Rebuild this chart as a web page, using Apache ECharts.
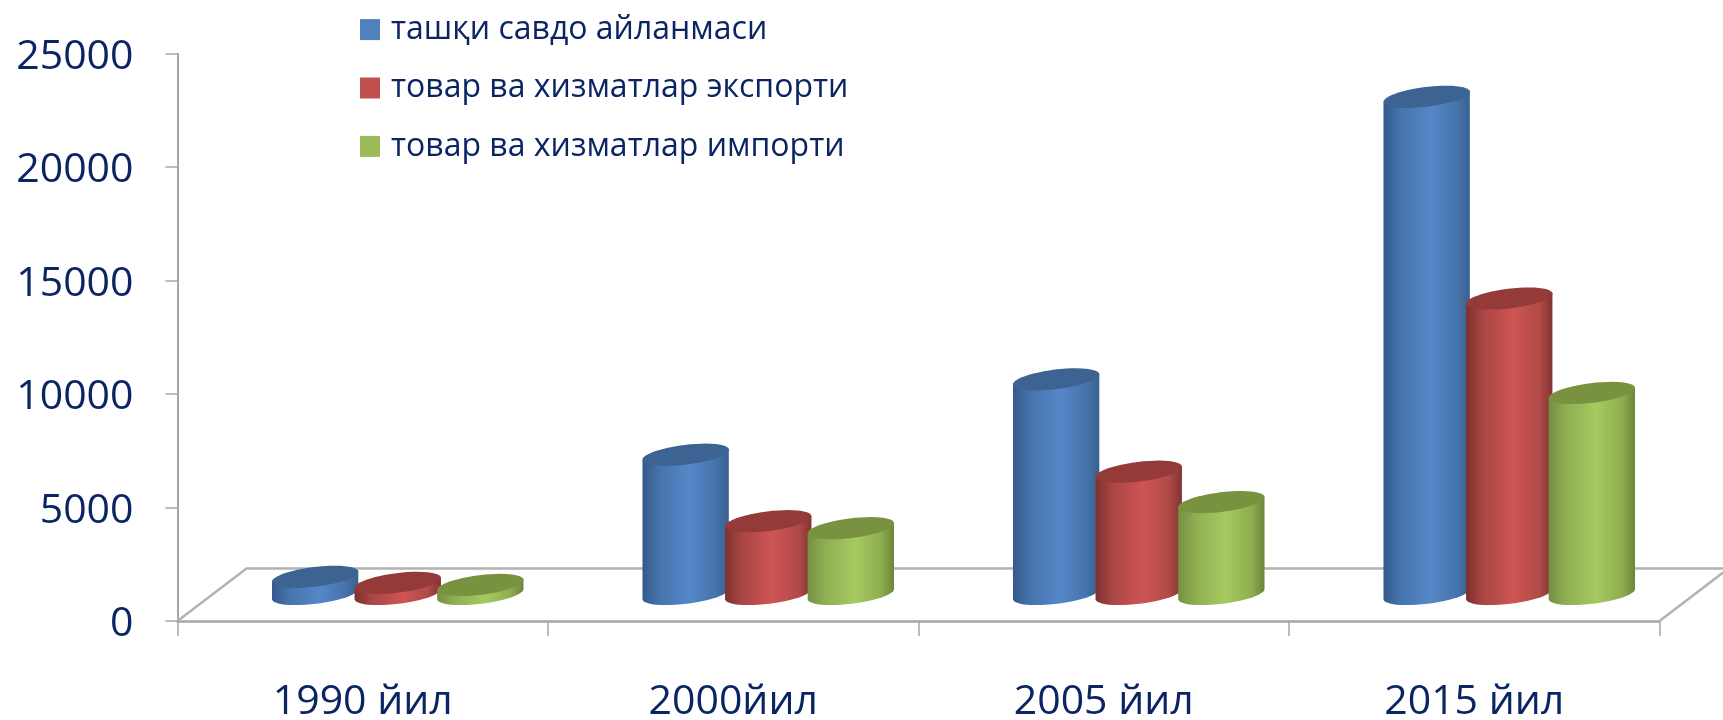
<!DOCTYPE html>
<html><head><meta charset="utf-8">
<style>html,body{margin:0;padding:0;background:#fff}#c{width:1723px;height:720px}</style>
<script src="https://cdn.jsdelivr.net/npm/echarts@6/dist/echarts.min.js"></script>
</head><body><div id="c"></div>
<script>
const categories = ['1990 йил', '2000йил', '2005 йил', '2015 йил'];
const turnover = [760, 6140, 9460, 21910];
const exports_ = [490, 3210, 5390, 13020];
const imports_ = [400, 2900, 4050, 8860];
const seriesNames = ['ташқи савдо айланмаси', 'товар ва хизматлар экспорти', 'товар ва хизматлар импорти'];

const DEPTH_X = 35, DEPTH_Y = 27, RX = 43.5, RY = 9.8, TILT = 7 * Math.PI / 180, STEP = 82.6;
const FONT = '"Open Sans"';
const INK = '#0b2463';
const shades = [
  {top:'#3c6391', stops:['#34598a','#4674ad','#5587c8','#4673aa','#38618f'], legend:'#4f81bd'},
  {top:'#943b39', stops:['#7d302f','#aa4644','#cd5553','#b04a48','#823331'], legend:'#c0504d'},
  {top:'#78923f', stops:['#758f42','#8fae52','#a6ca60','#8fad50','#6c853a'], legend:'#9bbb59'}
];
function pt(cx, cy, t) {
  const c = Math.cos(TILT), s = Math.sin(TILT);
  return [cx + RX*Math.cos(t)*c + RY*Math.sin(t)*s, cy - RX*Math.cos(t)*s + RY*Math.sin(t)*c];
}
function cylinder(si) {
  return function (params, api) {
    const p = api.coord([api.value(0), api.value(1)]);
    const z = api.coord([api.value(0), 0]);
    const cx = z[0] + DEPTH_X + (si - 1) * STEP;
    const baseY = z[1] - DEPTH_Y;
    const topY = baseY - (z[1] - p[1]);
    const side = [], lid = [];
    for (let k = 0; k <= 24; k++) side.push(pt(cx, baseY, Math.PI - k/24*Math.PI));
    side.push(pt(cx, topY, 0));
    for (let k = 0; k <= 48; k++) lid.push(pt(cx, topY, k/48*2*Math.PI));
    side.push(pt(cx, topY, Math.PI));
    const sh = shades[si];
    return {type:'group', children:[
      {type:'polygon', shape:{points:side}, style:{fill:new echarts.graphic.LinearGradient(0,0,1,0,[
        {offset:0,color:sh.stops[0]},{offset:0.2,color:sh.stops[1]},{offset:0.55,color:sh.stops[2]},{offset:0.85,color:sh.stops[3]},{offset:1,color:sh.stops[4]}])}},
      {type:'polygon', shape:{points:lid}, style:{fill:sh.top}}
    ]};
  };
}
function floor(params, api) {
  const a = api.coord([0, 0]), b = api.coord([3, 0]);
  const half = (b[0] - a[0]) / 6;
  const x0 = a[0] - half, x1 = b[0] + half, y = a[1], bx = 69, by = 52.5;
  const st = {stroke:'#b3b3b3', lineWidth:2.5, fill:'none'};
  return {type:'group', children:[
    {type:'polyline', shape:{points:[[x0,y],[x0+bx,y-by],[x1+bx,y-by],[x1,y]]}, style:st}
  ]};
}
const rows = [turnover, exports_, imports_];
const chart = echarts.init(document.getElementById('c'));
chart.setOption({
  animation:false,
  backgroundColor:'#fff',
  grid:{left:177.5, right:63.5, top:53.7, bottom:99, outerBoundsMode:'none'},
  legend:{
    data:seriesNames, orient:'vertical', left:355, top:8.6, itemWidth:20, itemHeight:21, itemGap:26.4,
    icon:'rect', selectedMode:false,
    textStyle:{fontFamily:FONT, fontSize:32, color:INK, lineHeight:21, padding:[0,0,0,6]}
  },
  xAxis:{type:'category', data:categories, boundaryGap:true,
    axisLine:{lineStyle:{color:'#a6a6a6',width:2.5}},
    axisTick:{show:true,alignWithLabel:false,length:15,lineStyle:{color:'#a6a6a6',width:1.5}},
    axisLabel:{fontFamily:FONT,fontSize:41,color:INK,margin:61,interval:0}},
  yAxis:{type:'value', min:0, max:25000, interval:5000,
    splitLine:{show:false},
    axisLine:{show:true,lineStyle:{color:'#a6a6a6',width:2}},
    axisTick:{show:true,length:12,lineStyle:{color:'#a6a6a6',width:1.5}},
    axisLabel:{fontFamily:FONT,fontSize:41,color:INK,margin:44,verticalAlign:'top',lineHeight:7,formatter:v=>String(v)}},
  series:[
    {type:'custom', name:'floor', data:[[0,0]], renderItem:floor, silent:true, z:1, clip:false},
    ...rows.map((v,i)=>({type:'custom', name:seriesNames[i], renderItem:cylinder(i), z:3+i, clip:false,
      encode:{x:0,y:1}, itemStyle:{color:shades[i].legend},
      data:categories.map((c,j)=>[j,v[j]])}))
  ]
});
</script></body></html>
